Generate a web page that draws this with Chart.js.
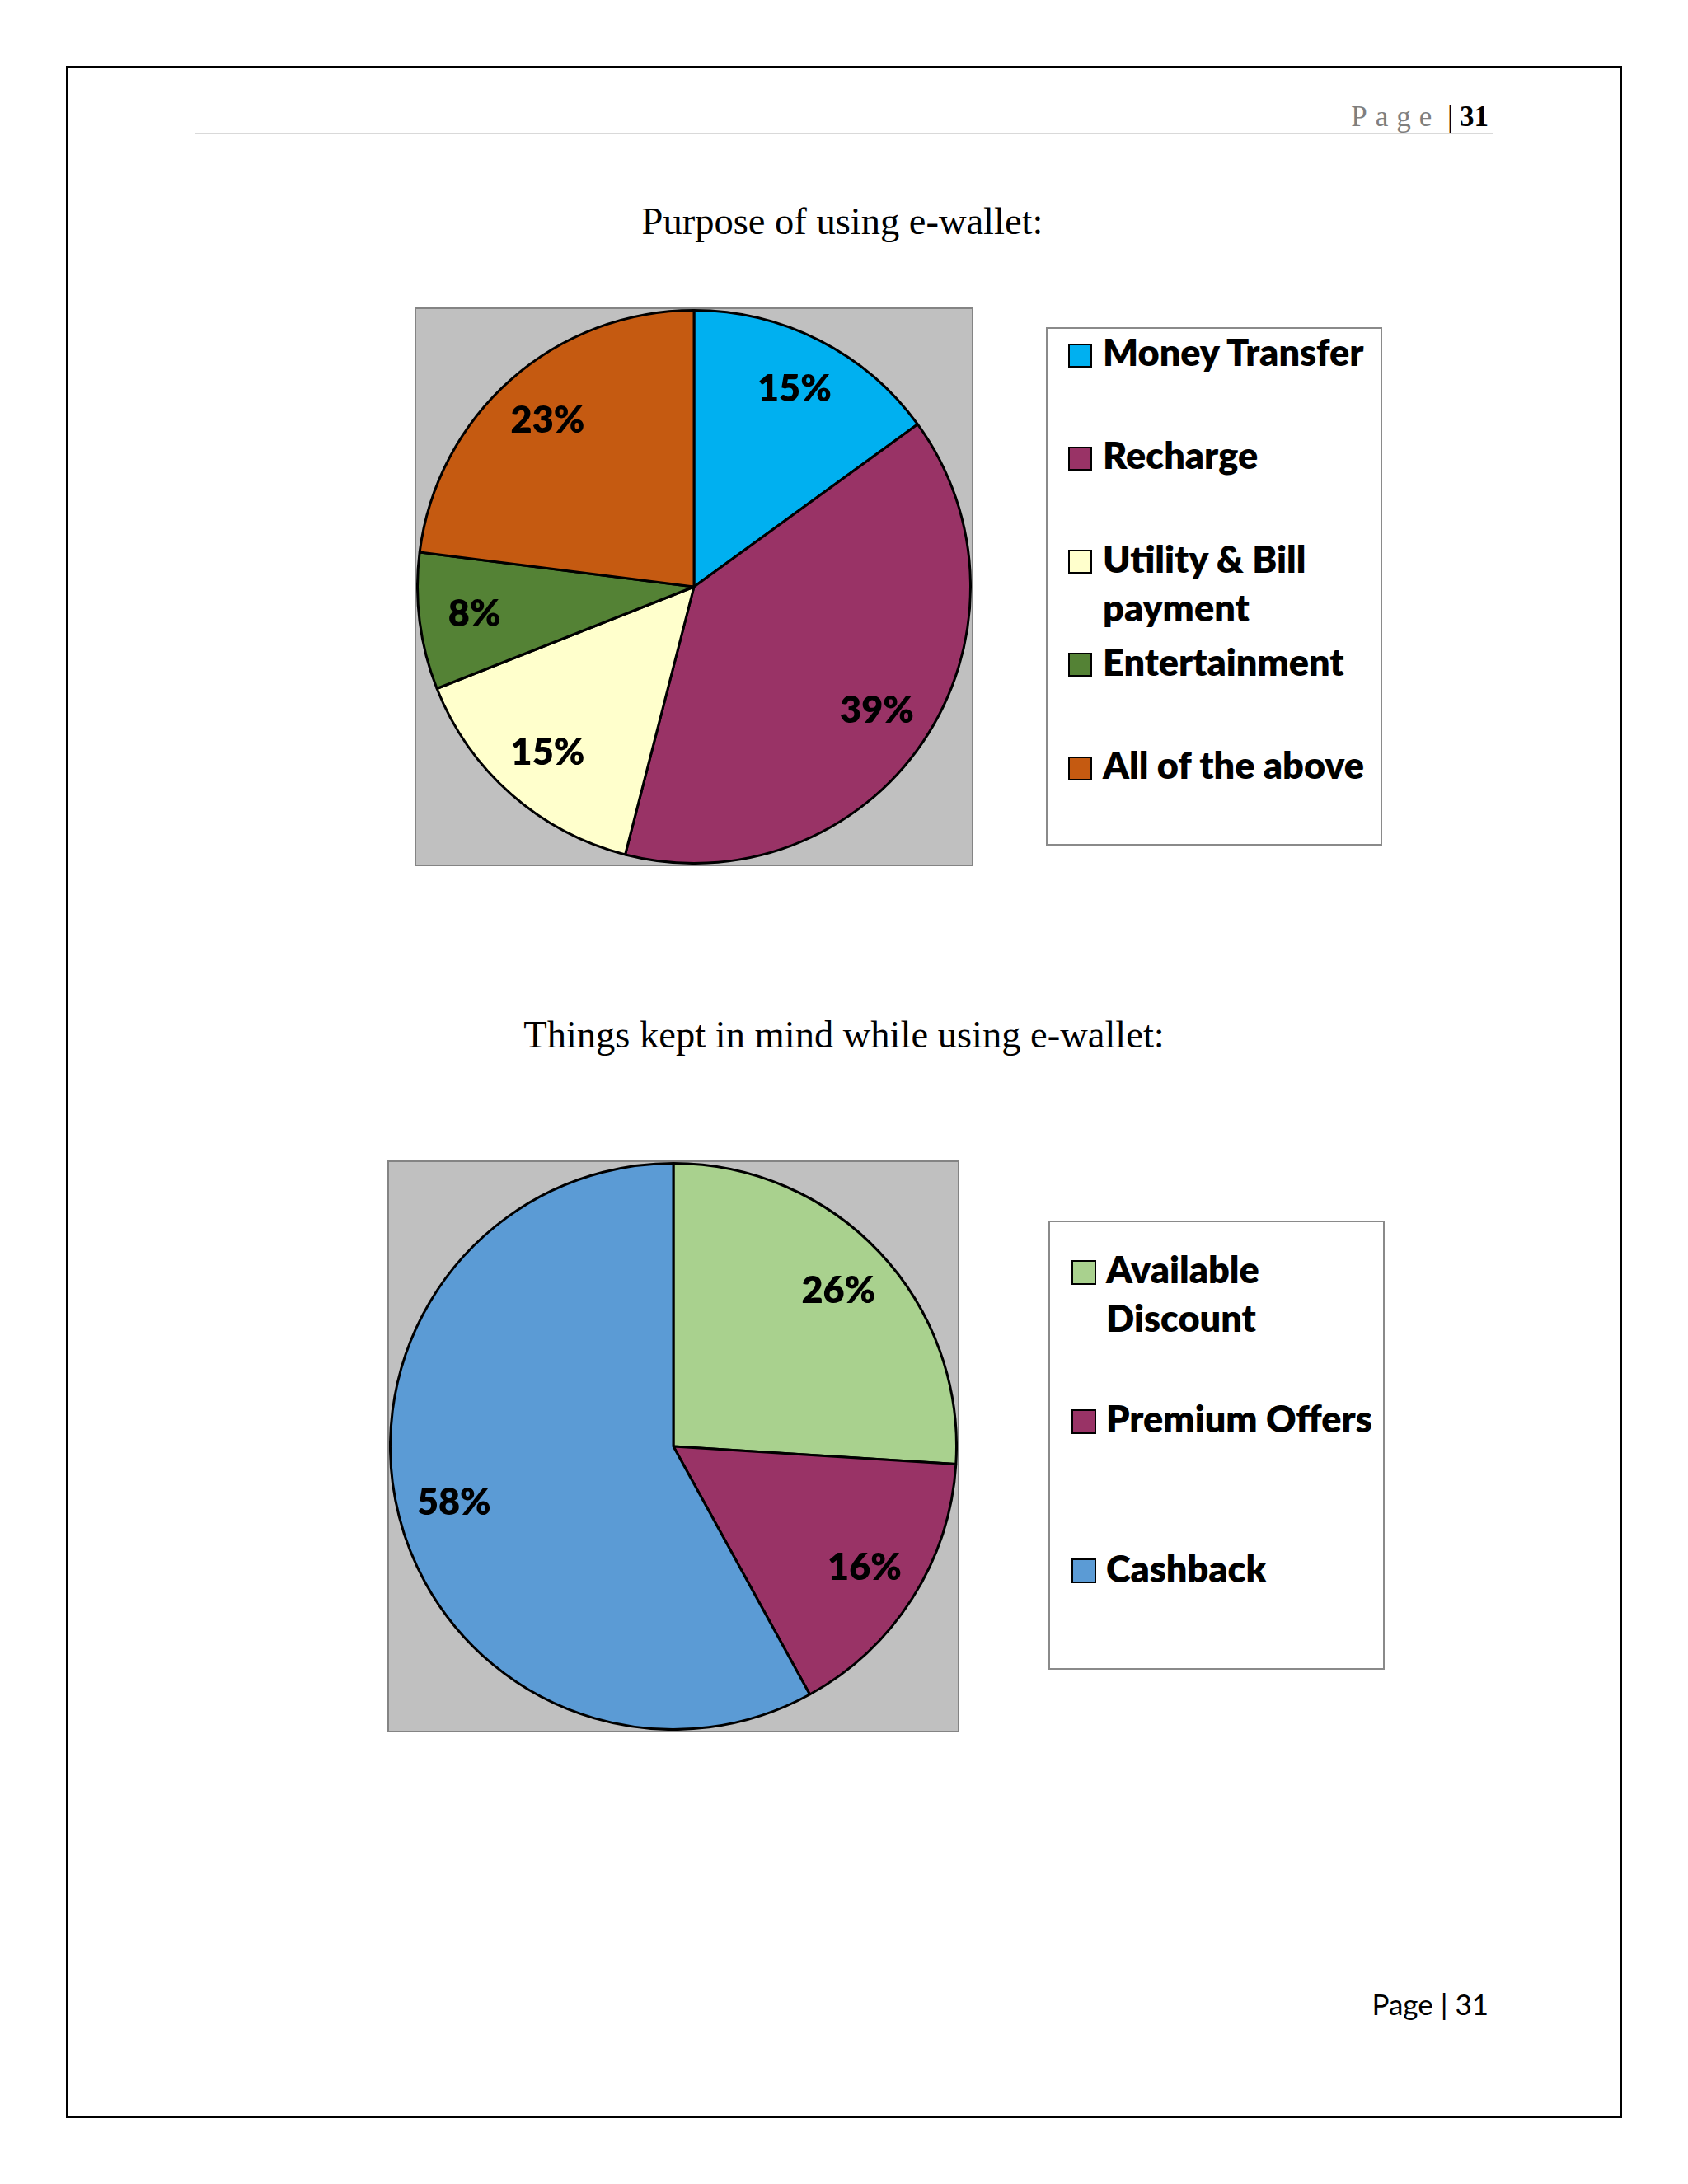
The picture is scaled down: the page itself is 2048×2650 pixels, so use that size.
<!DOCTYPE html>
<html><head><meta charset="utf-8">
<script src="https://cdn.jsdelivr.net/npm/chart.js@4.4.1/dist/chart.umd.min.js"></script>
<style>
html,body{margin:0;padding:0;background:#fff;}
body{width:2048px;height:2650px;position:relative;overflow:hidden;}
#frame{position:absolute;left:80px;top:80px;width:1888px;height:2490px;border:2px solid #000;box-sizing:border-box;}
#hline{position:absolute;left:236px;top:161px;width:1576px;height:2px;background:#d9d9d9;}
.title{position:absolute;font-family:'Liberation Serif';font-size:46.5px;line-height:46.5px;color:#000;text-align:center;width:1200px;white-space:nowrap;}
.plot{position:absolute;background:#c0c0c0;border:2px solid #848484;}
.plot canvas{display:block;}
.legend{position:absolute;border:2px solid #8a8a8a;box-sizing:border-box;background:#fff;}
.lg-text{position:absolute;font-family:Lato;font-weight:800;font-size:45px;line-height:59px;color:#000;width:338px;white-space:normal;}
.lg-box{position:absolute;border:2.5px solid #000;box-sizing:border-box;}
#header{position:absolute;right:242px;top:123.5px;font-family:'Liberation Serif';font-size:35px;line-height:35px;white-space:nowrap;text-align:right;}
#header .pg{color:#7f7f7f;letter-spacing:10px;}
#header b{color:#000;margin-left:8px;}
#footer{position:absolute;right:242px;top:2414px;font-family:Lato;font-size:35px;line-height:35px;white-space:nowrap;color:#000;}
</style></head>
<body>
<div id="frame"></div>
<div id="header"><span class="pg">Page</span>&nbsp;|<b>31</b></div>
<div id="hline"></div>
<div class="title" style="left:422px;top:246px;">Purpose of using e-wallet:</div>
<div class="plot" style="left:503px;top:373px;width:674px;height:674px;"><canvas id="c1" width="674" height="674"></canvas></div>
<div class="legend" style="left:1269px;top:397px;width:408px;height:629px;"></div>
<div class="title" style="left:424px;top:1233px;">Things kept in mind while using e-wallet:</div>
<div class="plot" style="left:470px;top:1408px;width:690px;height:690px;"><canvas id="c2" width="690" height="690"></canvas></div>
<div class="legend" style="left:1272px;top:1481px;width:408px;height:545px;"></div>
<div id="footer">Page | 31</div>
<script>
// ---- data ----
const purposeLabels = ['Money Transfer', 'Recharge', 'Utility & Bill payment', 'Entertainment', 'All of the above'];
const purposeValues = [15, 39, 15, 8, 23];
const purposeColors = ['#00B0F0', '#993366', '#FFFFCC', '#548235', '#C55A11'];

const thingsLabels = ['Available Discount', 'Premium Offers', 'Cashback'];
const thingsValues = [26, 16, 58];
const thingsColors = ['#A9D18E', '#993366', '#5B9BD5'];

// ---- percentage labels plugin ----
const pctLabels = {
  id: 'pctLabels',
  afterDatasetsDraw(chart, args, opts) {
    const ctx = chart.ctx;
    const ds = chart.data.datasets[0];
    const meta = chart.getDatasetMeta(0);
    const total = ds.data.reduce((a, b) => a + b, 0);
    ctx.save();
    ctx.font = '800 45px Lato';
    ctx.fillStyle = '#000';
    ctx.textAlign = 'center';
    ctx.textBaseline = 'middle';
    meta.data.forEach((arc, i) => {
      const p = arc.getProps(['x', 'y', 'startAngle', 'endAngle', 'outerRadius'], true);
      const mid = (p.startAngle + p.endAngle) / 2;
      const r = p.outerRadius * opts.frac;
      ctx.fillText(Math.round(ds.data[i] / total * 100) + '%', p.x + Math.cos(mid) * r, p.y + Math.sin(mid) * r);
    });
    ctx.restore();
  }
};

function makePie(id, labels, values, colors) {
  return new Chart(document.getElementById(id), {
    type: 'pie',
    data: {
      labels: labels,
      datasets: [{
        data: values,
        backgroundColor: colors,
        borderColor: '#000',
        borderWidth: 3,
        hoverBorderWidth: 3,
        offset: 0,
        hoverOffset: 0
      }]
    },
    options: {
      responsive: false,
      animation: false,
      devicePixelRatio: 1,
      events: [],
      layout: { padding: 0 },
      plugins: {
        legend: { display: false },
        tooltip: { enabled: false },
        pctLabels: { frac: 0.8 }
      }
    },
    plugins: [pctLabels]
  });
}

function buildLegend(chart, cfg) {
  const items = chart.options.plugins.legend.labels.generateLabels(chart);
  items.forEach((it, i) => {
    const base = cfg.firstBaseline + cfg.step * i;
    const box = document.createElement('div');
    box.className = 'lg-box';
    box.style.left = cfg.boxX + 'px';
    box.style.top = (base - cfg.boxSize + 0.5) + 'px';
    box.style.width = cfg.boxSize + 'px';
    box.style.height = cfg.boxSize + 'px';
    box.style.background = it.fillStyle;
    document.body.appendChild(box);
    const t = document.createElement('div');
    t.className = 'lg-text';
    t.textContent = it.text;
    t.style.left = cfg.textX + 'px';
    t.style.top = (base - 46.9) + 'px';
    document.body.appendChild(t);
  });
}

function init() {
  const c1 = makePie('c1', purposeLabels, purposeValues, purposeColors);
  const c2 = makePie('c2', thingsLabels, thingsValues, thingsColors);
  buildLegend(c1, { firstBaseline: 445, step: 125.25, boxX: 1296, boxSize: 29, textX: 1338 });
  buildLegend(c2, { firstBaseline: 1558, step: 181.3, boxX: 1300, boxSize: 30, textX: 1342 });
}

if (document.fonts && document.fonts.load) {
  Promise.all([document.fonts.load('800 45px Lato'), document.fonts.load('35px Lato')]).then(init, init);
} else { init(); }
</script>
</body></html>
